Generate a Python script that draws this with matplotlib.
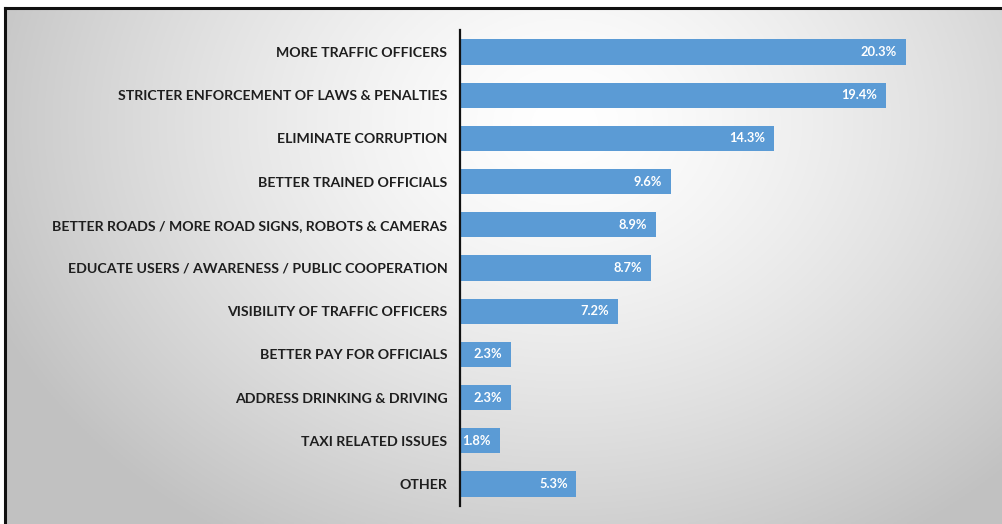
import numpy as np
import matplotlib
matplotlib.use("Agg")
import matplotlib.pyplot as plt
from matplotlib.lines import Line2D

categories = [
    "MORE TRAFFIC OFFICERS",
    "STRICTER ENFORCEMENT OF LAWS & PENALTIES",
    "ELIMINATE CORRUPTION",
    "BETTER TRAINED OFFICIALS",
    "BETTER ROADS / MORE ROAD SIGNS, ROBOTS & CAMERAS",
    "EDUCATE USERS / AWARENESS / PUBLIC COOPERATION",
    "VISIBILITY OF TRAFFIC OFFICERS",
    "BETTER PAY FOR OFFICIALS",
    "ADDRESS DRINKING & DRIVING",
    "TAXI RELATED ISSUES",
    "OTHER",
]
values = [20.3, 19.4, 14.3, 9.6, 8.9, 8.7, 7.2, 2.3, 2.3, 1.8, 5.3]

W, H = 1003, 524
fig = plt.figure(figsize=(W / 100, H / 100), dpi=100)
fig.patch.set_facecolor("white")

# radial grey-to-white backdrop inside the frame
left_px, top_px = 5, 9
bg = fig.add_axes([left_px / W, 0, 1 - left_px / W, 1 - top_px / H])
bg.set_axis_off()
ny, nx = 260, 500
yy, xx = np.mgrid[0:ny, 0:nx]
cx, cy = 0.56 * nx, 0.22 * ny
d = np.sqrt(((xx - cx) / (0.62 * nx)) ** 2 + ((yy - cy) / (0.95 * ny)) ** 2)
d = np.clip(d, 0, 1)
shade = 1.0 - 0.24 * d ** 1.4
img = np.dstack([shade, shade, shade])
bg.imshow(img, aspect="auto", extent=[0, 1, 0, 1], origin="upper")
bg.set_xlim(0, 1)
bg.set_ylim(0, 1)

# frame lines (top and left)
fig.add_artist(Line2D([left_px / W, 1], [1 - 8 / H, 1 - 8 / H], color="#111111", lw=2.2,
                      transform=fig.transFigure))
fig.add_artist(Line2D([4.5 / W, 4.5 / W], [0, 1 - 8 / H], color="#111111", lw=2.2,
                      transform=fig.transFigure))

# bar chart
ax_l, ax_r = 460, 980
ax_t, ax_b = 30.4, 505.6
ax = fig.add_axes([ax_l / W, 1 - ax_b / H, (ax_r - ax_l) / W, (ax_b - ax_t) / H])
ax.set_facecolor("none")
px_per_unit = 21.97
ax.set_xlim(0, (ax_r - ax_l) / px_per_unit)
ax.set_ylim(len(categories) - 0.5, -0.5)

y = np.arange(len(categories))
ax.barh(y, values, height=0.58, color="#5b9bd5", left=0)

for yi, v in zip(y, values):
    ax.text(v - 0.4, yi, f"{v:.1f}%", ha="right", va="center", color="white",
            fontsize=9.3, fontweight="bold", family="Lato")

ax.set_yticks(y)
ax.set_yticklabels(categories, fontsize=10.2, fontweight="bold", family="Lato", color="#1e1e1e")
ax.tick_params(axis="y", length=0, pad=9)
ax.set_xticks([])
for s in ["top", "right", "bottom"]:
    ax.spines[s].set_visible(False)
ax.spines["left"].set_color("#111111")
ax.spines["left"].set_linewidth(1.6)

fig.savefig("out.png", dpi=100)
